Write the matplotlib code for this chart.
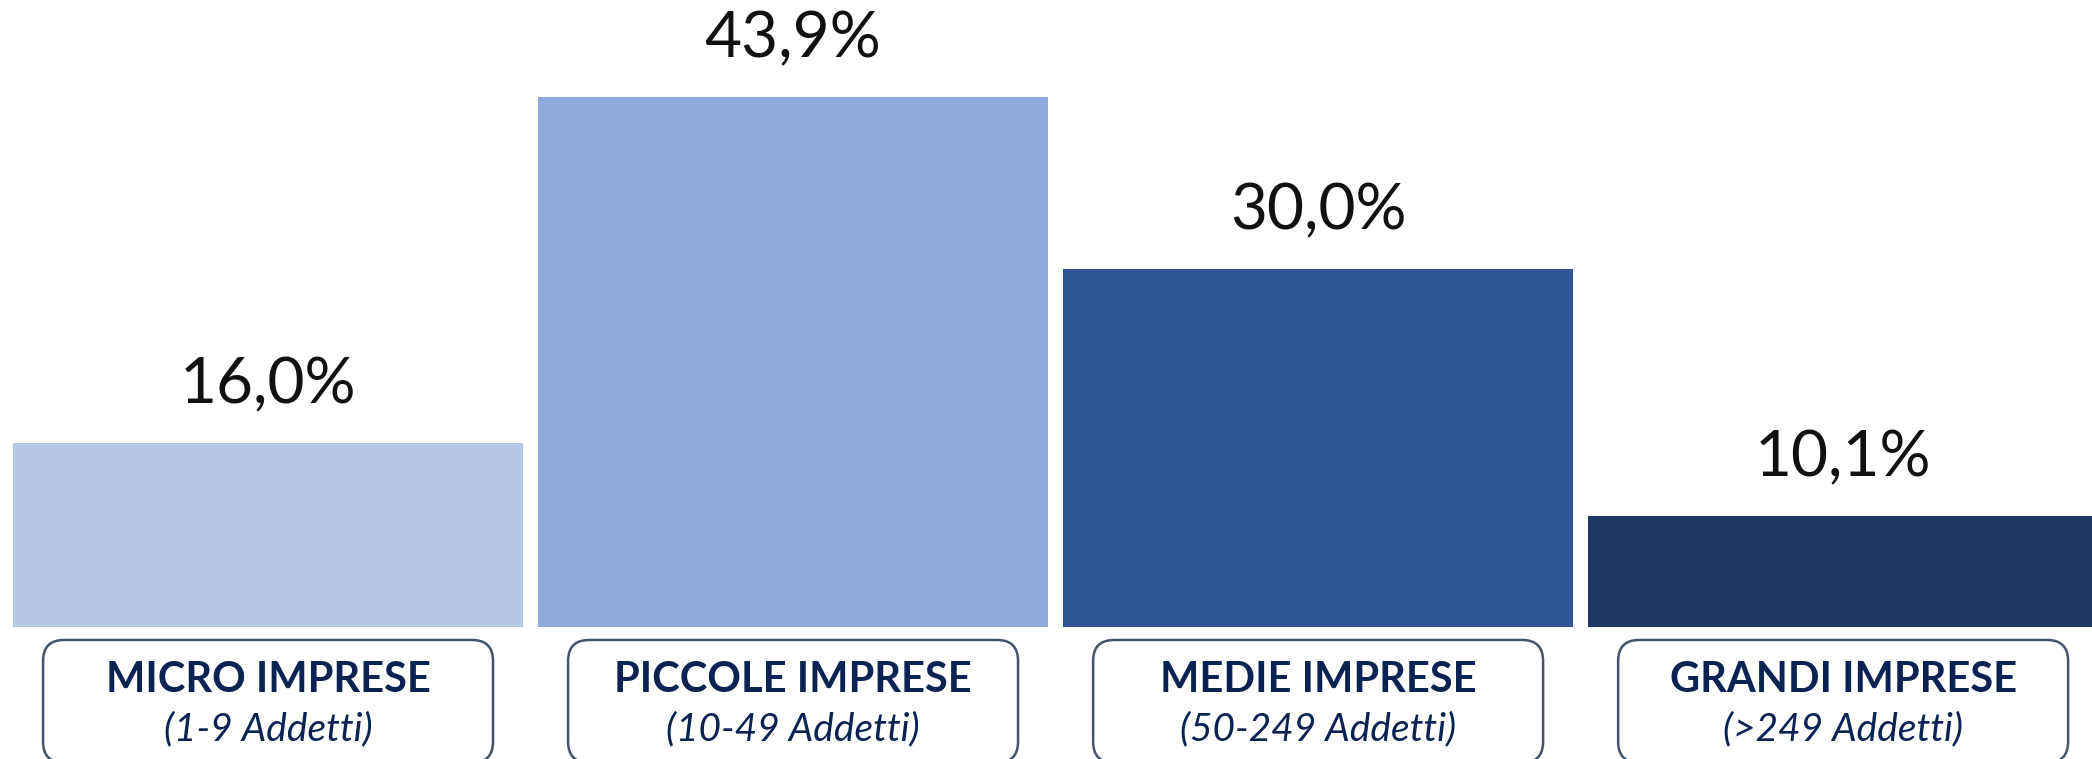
import matplotlib
matplotlib.use("Agg")
from matplotlib import pyplot as plt
from matplotlib.patches import FancyBboxPatch

# data
categorie = ["MICRO IMPRESE", "PICCOLE IMPRESE", "MEDIE IMPRESE", "GRANDI IMPRESE"]
addetti = ["(1-9 Addetti)", "(10-49 Addetti)", "(50-249 Addetti)", "(>249 Addetti)"]
quote = [16.0, 43.9, 30.0, 10.1]
etichette = ["16,0%", "43,9%", "30,0%", "10,1%"]
colori = ["#B4C7E7", "#8FAADC", "#2F5597", "#203864"]

NAVY = "#0A2352"
FONT = "Lato"

fig = plt.figure(figsize=(20.92, 7.59), dpi=100)
ax = fig.add_axes([0, 0.1739, 1, 0.8261])

x = list(range(len(quote)))
bars = ax.bar(x, quote, width=0.971, color=colori, linewidth=0)

ax.set_xlim(-0.5105, 3.474)
ax.set_ylim(1.145, 51.71)
ax.axis("off")

# value labels above bars
for b, lab in zip(bars, etichette):
    ax.annotate(lab, (b.get_x() + b.get_width() / 2, b.get_height()),
                xytext=(0, 41.5), textcoords="offset points",
                ha="center", va="center", fontsize=46, family=FONT,
                color="#111111")

# rounded boxes with category names under the bars
BOX_W = 0.857
for xi, cat, sub in zip(x, categorie, addetti):
    box = FancyBboxPatch((xi - BOX_W / 2, -9.8), BOX_W, 9.9,
                         boxstyle="round,pad=0,rounding_size=0.04",
                         mutation_aspect=42.3,
                         facecolor="white", edgecolor="#44546A",
                         linewidth=1.8, clip_on=False, zorder=3)
    ax.add_patch(box)
    ax.text(xi, -3.1, cat, ha="center", va="center", fontsize=30,
            fontweight="bold", family=FONT, color=NAVY, zorder=4, clip_on=False)
    ax.text(xi, -7.1, sub, ha="center", va="center", fontsize=28,
            style="italic", family=FONT, color=NAVY, zorder=4, clip_on=False)

fig.savefig("out.png", dpi=100)
